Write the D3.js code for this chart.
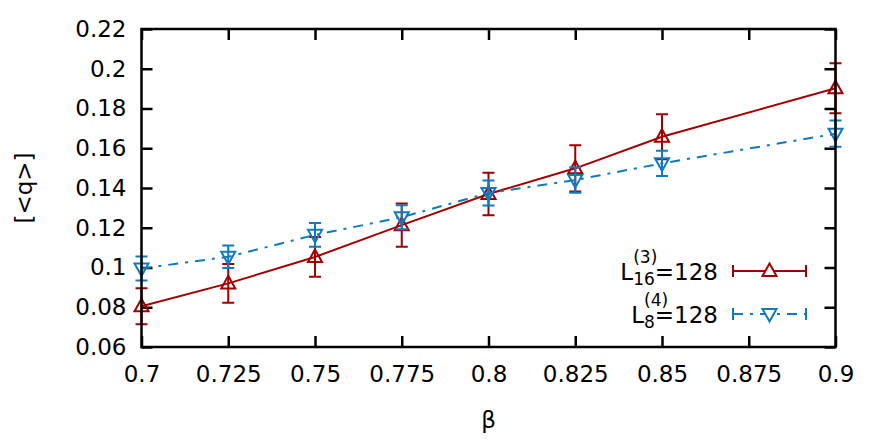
<!DOCTYPE html>
<html>
<head>
<meta charset="utf-8">
<script src="https://cdn.jsdelivr.net/npm/d3@7"></script>
<style>
  body { margin: 0; background: #fff; }
  svg text { font-family: 'DejaVu Sans', sans-serif; fill: #000; }
</style>
</head>
<body>
<div class="canvas"></div>
<script>
const beta = [0.7, 0.725, 0.75, 0.775, 0.8, 0.825, 0.85, 0.9];
const l16q = [0.0805, 0.092, 0.1053, 0.1213, 0.137, 0.1499, 0.1658, 0.1902];
const l16err = [0.009, 0.0097, 0.01, 0.0109, 0.0107, 0.0116, 0.0113, 0.0126];
const l8q = [0.0995, 0.1054, 0.1164, 0.1253, 0.1375, 0.144, 0.1524, 0.1673];
const l8err = [0.006, 0.0057, 0.006, 0.006, 0.0063, 0.0064, 0.0063, 0.0066];

const xTicks = [0.7, 0.725, 0.75, 0.775, 0.8, 0.825, 0.85, 0.875, 0.9];
const yTicks = [0.06, 0.08, 0.1, 0.12, 0.14, 0.16, 0.18, 0.2, 0.22];

const width = 880;
const height = 440;
const margin = { top: 29, right: 44.5, bottom: 93, left: 141.5 };
const RED = '#a00000';
const BLUE = '#0f7abd';
const FS = 23;
const FS_SMALL = 17;

const svg = d3
  .select('.canvas')
  .append('svg')
  .attr('width', width)
  .attr('height', height);

const x = d3.scaleLinear().domain([0.7, 0.9]).range([margin.left, width - margin.right]);
const y = d3.scaleLinear().domain([0.06, 0.22]).range([height - margin.bottom, margin.top]);

const fmt = d => String(+d.toFixed(3));

// ticks on all four sides, pointing inward
const tickLen = 11;
const axes = svg.append('g').attr('id', 'axes');
axes.append('g')
  .attr('transform', `translate(0,${y(0.06)})`)
  .call(d3.axisBottom(x).tickValues(xTicks).tickFormat(fmt).tickSizeInner(-tickLen).tickSizeOuter(0).tickPadding(19));
axes.append('g')
  .attr('transform', `translate(0,${y(0.22)})`)
  .call(d3.axisTop(x).tickValues(xTicks).tickFormat('').tickSizeInner(-tickLen).tickSizeOuter(0));
axes.append('g')
  .attr('transform', `translate(${x(0.7)},0)`)
  .call(d3.axisLeft(y).tickValues(yTicks).tickFormat(fmt).tickSizeInner(-tickLen).tickSizeOuter(0).tickPadding(15));
axes.append('g')
  .attr('transform', `translate(${x(0.9)},0)`)
  .call(d3.axisRight(y).tickValues(yTicks).tickFormat('').tickSizeInner(-tickLen).tickSizeOuter(0));
axes.selectAll('.domain').remove();
axes.selectAll('.tick line').attr('stroke', '#000').attr('stroke-width', 2.5);
axes.selectAll('.tick text').attr('font-size', FS).attr('font-family', 'DejaVu Sans');

svg.append('text')
  .attr('x', x(0.8))
  .attr('y', 428)
  .attr('text-anchor', 'middle')
  .attr('font-size', FS)
  .text('β');

svg.append('text')
  .attr('transform', `translate(24,${(y(0.06) + y(0.22)) / 2}) rotate(-90)`)
  .attr('text-anchor', 'middle')
  .attr('dominant-baseline', 'central')
  .attr('font-size', FS)
  .text('[<q>]');

const series = [
  { id: 'l16', q: l16q, err: l16err, color: RED, dash: null, marker: 'up', sup: '(3)', sub: '16' },
  { id: 'l8', q: l8q, err: l8err, color: BLUE, dash: '10,7,3,7', marker: 'down', sup: '(4)', sub: '8' },
];

const tri = (dir, s) => {
  const h = s * 0.9;
  return dir === 'up'
    ? `M0,${-h * 0.6}L${s / 2},${h * 0.4}L${-s / 2},${h * 0.4}Z`
    : `M0,${h * 0.6}L${s / 2},${-h * 0.4}L${-s / 2},${-h * 0.4}Z`;
};

const plot = svg.append('g').attr('id', 'plot');
const line = d3.line().x(d => x(d.b)).y(d => y(d.q));
const capW = 6;

series.forEach(s => {
  const pts = beta.map((b, i) => ({ b, q: s.q[i], e: s.err[i] }));
  const g = plot.append('g').attr('id', s.id);

  g.append('path')
    .datum(pts)
    .attr('d', line)
    .attr('fill', 'none')
    .attr('stroke', s.color)
    .attr('stroke-width', 2)
    .attr('stroke-dasharray', s.dash);

  g.selectAll('path.bar')
    .data(pts)
    .join('path')
    .attr('class', 'bar')
    .attr('d', d => {
      const cx = x(d.b);
      const y0 = y(d.q - d.e);
      const y1 = y(d.q + d.e);
      return `M${cx},${y0}V${y1}M${cx - capW},${y0}H${cx + capW}M${cx - capW},${y1}H${cx + capW}`;
    })
    .attr('fill', 'none')
    .attr('stroke', s.color)
    .attr('stroke-width', 2);

  g.selectAll('path.pt')
    .data(pts)
    .join('path')
    .attr('class', 'pt')
    .attr('transform', d => `translate(${x(d.b)},${y(d.q)})`)
    .attr('d', tri(s.marker, 14))
    .attr('fill', 'none')
    .attr('stroke', s.color)
    .attr('stroke-width', 2);
});

// legend
const legend = svg.append('g').attr('id', 'legend');
const rowY = [271, 314];
const textEnd = 718;
const sx0 = 733;
const sx1 = 806;
series.forEach((s, i) => {
  const ly = rowY[i];
  const base = ly + 9;
  const lg = legend.append('g');
  const eq = lg.append('text')
    .attr('x', textEnd)
    .attr('y', base)
    .attr('text-anchor', 'end')
    .attr('font-size', FS)
    .text('=128');
  const eqW = eq.node().getComputedTextLength();
  const sub = lg.append('text')
    .attr('x', textEnd - eqW)
    .attr('y', base + 5)
    .attr('text-anchor', 'end')
    .attr('font-size', FS_SMALL)
    .text(s.sub);
  const subW = sub.node().getComputedTextLength();
  const start = textEnd - eqW - subW;
  lg.append('text')
    .attr('x', start)
    .attr('y', base - 17)
    .attr('font-size', FS_SMALL)
    .text(s.sup);
  lg.append('text')
    .attr('x', start)
    .attr('y', base)
    .attr('text-anchor', 'end')
    .attr('font-size', FS)
    .text('L');

  lg.append('path')
    .attr('d', `M${sx0},${ly}H${sx1}`)
    .attr('stroke', s.color)
    .attr('stroke-width', 2)
    .attr('stroke-dasharray', s.dash);
  lg.append('path')
    .attr('d', `M${sx0},${ly - 6}V${ly + 6}M${sx1},${ly - 6}V${ly + 6}`)
    .attr('stroke', s.color)
    .attr('stroke-width', 2);
  lg.append('path')
    .attr('transform', `translate(${(sx0 + sx1) / 2},${ly})`)
    .attr('d', tri(s.marker, 14))
    .attr('fill', '#fff')
    .attr('stroke', s.color)
    .attr('stroke-width', 2);
});

// border on top
svg.append('rect')
  .attr('x', x(0.7))
  .attr('y', y(0.22))
  .attr('width', x(0.9) - x(0.7))
  .attr('height', y(0.06) - y(0.22))
  .attr('fill', 'none')
  .attr('stroke', '#000')
  .attr('stroke-width', 2.5);
</script>
</body>
</html>
